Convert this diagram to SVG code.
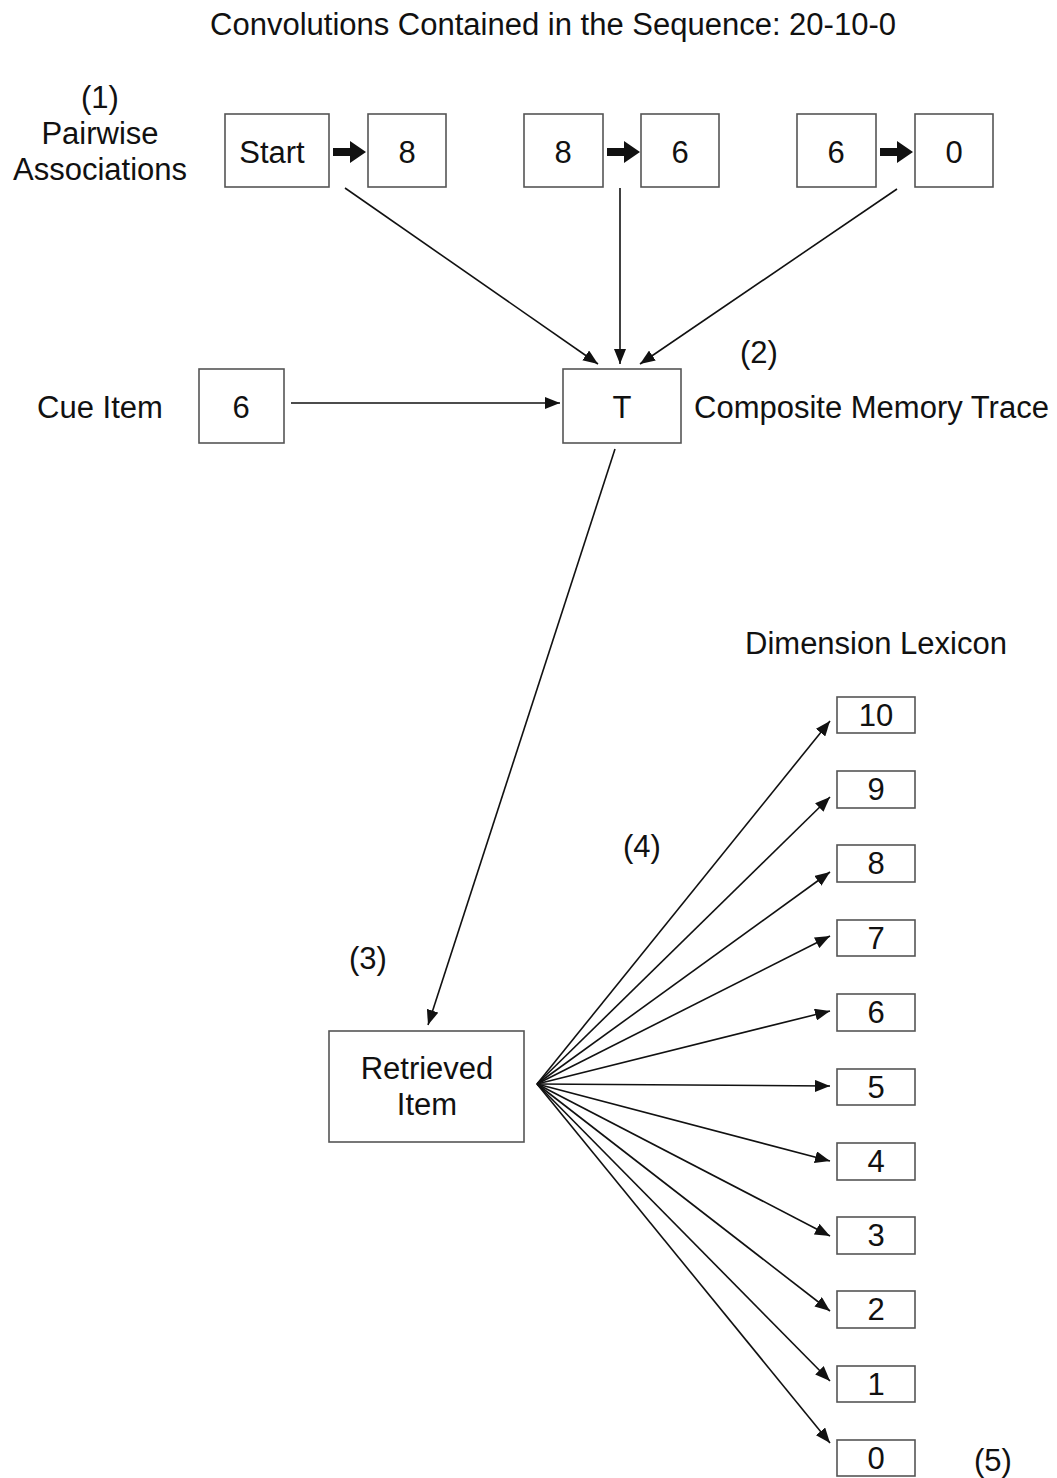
<svg xmlns="http://www.w3.org/2000/svg" width="1057" height="1478" viewBox="0 0 1057 1478">
<style>
text{font-family:"Liberation Sans",Arial,sans-serif;font-size:31px;fill:#111;text-anchor:middle}
.box{fill:#fff;stroke:#555;stroke-width:1.6}
.ln{stroke:#111;stroke-width:1.6;fill:none;marker-end:url(#ah)}
.lbl{text-anchor:start}
.thick{fill:#111}
</style>
<defs>
<marker id="ah" viewBox="0 0 10 8" refX="10" refY="4" markerWidth="15" markerHeight="12" markerUnits="userSpaceOnUse" orient="auto"><path d="M0,0 L10,4 L0,8 z" fill="#111"/></marker>
<path id="thk" d="M0,-4 L17,-4 L17,-11 L33,0 L17,11 L17,4 L0,4 z"/>
</defs>
<rect width="1057" height="1478" fill="#fff"/>
<text x="553" y="35">Convolutions Contained in the Sequence: 20-10-0</text>
<text x="100" y="108">(1)</text>
<text x="100" y="144">Pairwise</text>
<text x="100" y="180">Associations</text>
<text x="100" y="418">Cue Item</text>
<text x="759" y="363">(2)</text>
<text class="lbl" x="694" y="418">Composite Memory Trace</text>
<text x="876" y="654">Dimension Lexicon</text>
<text x="642" y="857">(4)</text>
<text x="368" y="969">(3)</text>
<text x="993" y="1471">(5)</text>

<g id="connectors">
<use href="#thk" class="thick" x="333" y="152"/>
<use href="#thk" class="thick" x="607" y="152"/>
<use href="#thk" class="thick" x="880" y="152"/>
<line class="ln" x1="345" y1="188" x2="598" y2="364"/>
<line class="ln" x1="620" y1="188" x2="620" y2="364"/>
<line class="ln" x1="897" y1="189" x2="640" y2="364"/>
<line class="ln" x1="291" y1="403" x2="560" y2="403"/>
<line class="ln" x1="615" y1="449" x2="428" y2="1025"/>
<line class="ln" x1="537" y1="1084" x2="830" y2="721"/>
<line class="ln" x1="537" y1="1084" x2="830" y2="797"/>
<line class="ln" x1="537" y1="1084" x2="830" y2="872"/>
<line class="ln" x1="537" y1="1084" x2="830" y2="936"/>
<line class="ln" x1="537" y1="1084" x2="830" y2="1011"/>
<line class="ln" x1="537" y1="1084" x2="830" y2="1086"/>
<line class="ln" x1="537" y1="1084" x2="830" y2="1161"/>
<line class="ln" x1="537" y1="1084" x2="830" y2="1236"/>
<line class="ln" x1="537" y1="1084" x2="830" y2="1311"/>
<line class="ln" x1="537" y1="1084" x2="830" y2="1381"/>
<line class="ln" x1="537" y1="1084" x2="830" y2="1443"/>
</g>

<g id="start"><rect class="box" x="225" y="114" width="104" height="73"/><text x="272" y="163">Start</text></g>
<g id="p1b"><rect class="box" x="368" y="114" width="78" height="73"/><text x="407" y="163">8</text></g>
<g id="p2a"><rect class="box" x="524" y="114" width="79" height="73"/><text x="563" y="163">8</text></g>
<g id="p2b"><rect class="box" x="641" y="114" width="78" height="73"/><text x="680" y="163">6</text></g>
<g id="p3a"><rect class="box" x="797" y="114" width="79" height="73"/><text x="836" y="163">6</text></g>
<g id="p3b"><rect class="box" x="915" y="114" width="78" height="73"/><text x="954" y="163">0</text></g>
<g id="cue"><rect class="box" x="199" y="369" width="85" height="74"/><text x="241" y="418">6</text></g>
<g id="trace"><rect class="box" x="563" y="369" width="118" height="74"/><text x="622" y="418">T</text></g>
<g id="retrieved"><rect class="box" x="329" y="1031" width="195" height="111"/><text x="427" y="1079">Retrieved</text><text x="427" y="1115">Item</text></g>
<g id="lex10"><rect class="box" x="837" y="697" width="78" height="36"/><text x="876" y="726">10</text></g>
<g id="lex9"><rect class="box" x="837" y="771" width="78" height="37"/><text x="876" y="800">9</text></g>
<g id="lex8"><rect class="box" x="837" y="845" width="78" height="37"/><text x="876" y="874">8</text></g>
<g id="lex7"><rect class="box" x="837" y="920" width="78" height="36"/><text x="876" y="949">7</text></g>
<g id="lex6"><rect class="box" x="837" y="994" width="78" height="37"/><text x="876" y="1023">6</text></g>
<g id="lex5"><rect class="box" x="837" y="1069" width="78" height="36"/><text x="876" y="1098">5</text></g>
<g id="lex4"><rect class="box" x="837" y="1143" width="78" height="37"/><text x="876" y="1172">4</text></g>
<g id="lex3"><rect class="box" x="837" y="1217" width="78" height="37"/><text x="876" y="1246">3</text></g>
<g id="lex2"><rect class="box" x="837" y="1291" width="78" height="37"/><text x="876" y="1320">2</text></g>
<g id="lex1"><rect class="box" x="837" y="1366" width="78" height="36"/><text x="876" y="1395">1</text></g>
<g id="lex0"><rect class="box" x="837" y="1440" width="78" height="36"/><text x="876" y="1469">0</text></g>
</svg>
